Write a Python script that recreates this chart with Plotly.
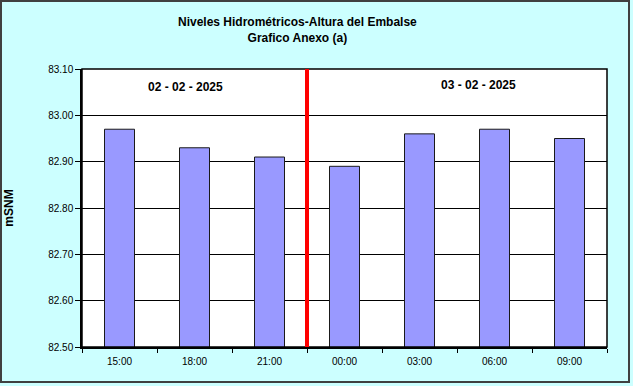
import plotly.graph_objects as go

categories = ["15:00", "18:00", "21:00", "00:00", "03:00", "06:00", "09:00"]
levels = [82.97, 82.93, 82.91, 82.89, 82.96, 82.97, 82.95]
y_ticks = [82.50, 82.60, 82.70, 82.80, 82.90, 83.00, 83.10]
day_labels = ["02 - 02 - 2025", "03 - 02 - 2025"]
title_text = "Niveles Hidrométricos-Altura del Embalse<br>Grafico Anexo (a)"

W, H = 633, 386
L, R, T, B = 82, 26, 69, 39
pw, ph = W - L - R, H - T - B

fig = go.Figure()
fig.add_trace(go.Bar(
    x=categories, y=levels,
    marker=dict(color="#9999FF", line=dict(color="#1a1a1a", width=1)),
    width=0.4,
))

def px_x(p):
    return (p - L) / pw

def px_y(p):
    return (H - B - p) / ph

shapes = [
    # outer frame
    dict(type="rect", xref="paper", yref="paper",
         x0=px_x(1), x1=px_x(629), y0=px_y(1), y1=px_y(382),
         line=dict(color="#404040", width=2), layer="below"),
    # plot border
    dict(type="rect", xref="paper", yref="paper", x0=0, x1=1, y0=0, y1=1,
         line=dict(color="#000000", width=1.5)),
    # day divider
    dict(type="line", xref="x", yref="paper", x0=2.5, x1=2.5, y0=0, y1=1,
         line=dict(color="#FF0000", width=4)),
]

annotations = [
    dict(text="<b>" + title_text + "</b>", x=px_x(297), y=px_y(30), xref="paper", yref="paper",
         showarrow=False, xanchor="center", yanchor="middle",
         font=dict(family="Arial, Liberation Sans", size=12, color="black")),
    dict(text="<b>" + day_labels[0] + "</b>", x=0.875, y=83.062, xref="x", yref="y", showarrow=False,
         font=dict(family="Arial, Liberation Sans", size=12, color="black"), xanchor="center"),
    dict(text="<b>" + day_labels[1] + "</b>", x=4.79, y=83.066, xref="x", yref="y", showarrow=False,
         font=dict(family="Arial, Liberation Sans", size=12, color="black"), xanchor="center"),
]

fig.update_layout(
    width=W, height=H,
    margin=dict(l=L, r=R, t=T, b=B, pad=0, autoexpand=False),
    paper_bgcolor="#CCFFFF",
    plot_bgcolor="#FFFFFF",
    showlegend=False,
    bargap=0.6,
    shapes=shapes,
    annotations=annotations,
    font=dict(family="Arial, Liberation Sans", size=10, color="black"),
)
fig.update_xaxes(
    type="category", range=[-0.5, 6.5], automargin=False,
    tickson="boundaries", ticks="outside", ticklen=4, tickcolor="black",
    ticklabelstandoff=4,
    showgrid=False, showline=True, linecolor="black", linewidth=1.5,
    tickfont=dict(size=10),
)
fig.update_yaxes(
    range=[82.50, 83.10], tickvals=y_ticks, automargin=False,
    ticktext=[f"{v:.2f}" for v in y_ticks],
    ticks="outside", ticklen=5, tickcolor="black",
    showgrid=True, gridcolor="#000000", gridwidth=1,
    showline=True, linecolor="black", linewidth=1.5,
    zeroline=False,
    title=dict(text="<b>mSNM</b>", standoff=32, font=dict(size=12)),
    tickfont=dict(size=10),
)

fig.write_html("out.html", config={"displayModeBar": False},
               post_script="document.body.style.margin='0';")
